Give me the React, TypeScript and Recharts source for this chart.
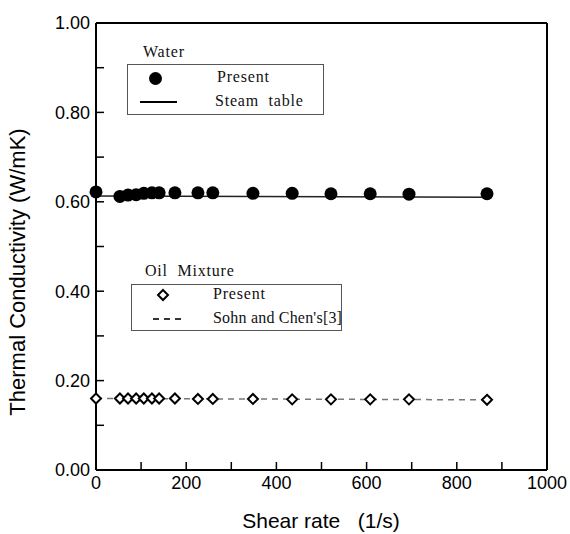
import {
  ComposedChart,
  Scatter,
  Line,
  XAxis,
  YAxis,
  ReferenceLine,
} from "recharts";

const shearRates = [0, 53, 71, 89, 106, 124, 140, 175, 226, 259, 348, 435, 521, 608, 694, 867];
const waterPresent = [0.622, 0.612, 0.615, 0.616, 0.619, 0.62, 0.62, 0.62, 0.62, 0.62, 0.619, 0.619, 0.618, 0.618, 0.617, 0.618];
const oilPresent = [0.16, 0.16, 0.16, 0.16, 0.16, 0.16, 0.16, 0.16, 0.159, 0.159, 0.159, 0.158, 0.158, 0.158, 0.158, 0.157];

const steamRates = [0, 870];
const steamTable = [0.613, 0.61];
const sohnRates = [0, 870];
const sohnChen = [0.16, 0.157];

const xTicks = [0, 100, 200, 300, 400, 500, 600, 700, 800, 900, 1000];
const yTicks = [0, 0.1, 0.2, 0.3, 0.4, 0.5, 0.6, 0.7, 0.8, 0.9, 1.0];

const waterData = shearRates.map((x, i) => ({ x, y: waterPresent[i] }));
const oilData = shearRates.map((x, i) => ({ x, y: oilPresent[i] }));
const steamData = steamRates.map((x, i) => ({ x, y: steamTable[i] }));
const sohnData = sohnRates.map((x, i) => ({ x, y: sohnChen[i] }));

const sans = "'Liberation Sans', Arial, sans-serif";
const serif = "'Liberation Serif', 'DejaVu Serif', serif";

function Dot(props: any) {
  const { cx, cy } = props;
  return <circle cx={cx} cy={cy} r={6.5} fill="#000" />;
}

function Diamond(props: any) {
  const { cx, cy } = props;
  const r = 5;
  return (
    <path
      d={`M${cx},${cy - r} L${cx + r},${cy} L${cx},${cy + r} L${cx - r},${cy} Z`}
      fill="#fff"
      stroke="#000"
      strokeWidth={2}
    />
  );
}

const legendText: React.CSSProperties = {
  position: "absolute",
  fontFamily: serif,
  fontSize: 16,
  letterSpacing: 0.8,
  whiteSpace: "pre",
  color: "#111",
  lineHeight: "18px",
};

export default function App() {
  return (
    <div style={{ position: "absolute", left: 0, top: 0, width: 570, height: 534, background: "#fff" }}>
      <ComposedChart
        width={570}
        height={534}
        margin={{ top: 23, right: 23, left: 0, bottom: 0 }}
      >
        <XAxis
          type="number"
          dataKey="x"
          domain={[0, 1000]}
          ticks={xTicks}
          height={64}
          tickSize={-8}
          tickMargin={14}
          tickFormatter={(v: number) => (v % 200 === 0 ? String(v) : "")}
          tick={{ fontSize: 18, fill: "#000", fontFamily: sans }}
          axisLine={{ stroke: "#000", strokeWidth: 2 }}
          tickLine={{ stroke: "#000", strokeWidth: 1.5 }}
        />
        <YAxis
          type="number"
          dataKey="y"
          domain={[0, 1]}
          ticks={yTicks}
          width={96}
          tickSize={-8}
          tickMargin={14}
          tickFormatter={(v: number) =>
            Math.round(v * 10) % 2 === 0 ? v.toFixed(2) : ""
          }
          tick={{ fontSize: 18, fill: "#000", fontFamily: sans }}
          axisLine={{ stroke: "#000", strokeWidth: 2 }}
          tickLine={{ stroke: "#000", strokeWidth: 1.5 }}
        />
        <ReferenceLine y={1} stroke="#000" strokeWidth={2} />
        <ReferenceLine x={1000} stroke="#000" strokeWidth={2} />
        <Line
          data={steamData}
          dataKey="y"
          type="linear"
          stroke="#222"
          strokeWidth={1.5}
          dot={false}
          isAnimationActive={false}
        />
        <Line
          data={sohnData}
          dataKey="y"
          type="linear"
          stroke="#777"
          strokeWidth={1.5}
          strokeDasharray="6 5"
          dot={false}
          isAnimationActive={false}
        />
        <Scatter data={waterData} dataKey="y" shape={<Dot />} isAnimationActive={false} />
        <Scatter data={oilData} dataKey="y" shape={<Diamond />} isAnimationActive={false} />
      </ComposedChart>

      {/* axis titles */}
      <div
        style={{
          position: "absolute",
          left: 0,
          top: 509,
          width: 642,
          textAlign: "center",
          fontFamily: sans,
          fontSize: 21,
          whiteSpace: "pre",
          lineHeight: "24px",
        }}
      >
        {"Shear rate   (1/s)"}
      </div>
      <div
        style={{
          position: "absolute",
          left: 18,
          top: 272,
          transform: "translate(-50%, -50%) rotate(-90deg)",
          fontFamily: sans,
          fontSize: 22,
          whiteSpace: "pre",
          lineHeight: "24px",
        }}
      >
        Thermal Conductivity (W/mK)
      </div>

      {/* water legend */}
      <div style={{ ...legendText, left: 143, top: 43 }}>Water</div>
      <div
        style={{
          position: "absolute",
          left: 127,
          top: 64,
          width: 195,
          height: 49,
          border: "1px solid #555",
        }}
      />
      <div
        style={{
          position: "absolute",
          left: 149,
          top: 72,
          width: 13,
          height: 13,
          borderRadius: "50%",
          background: "#000",
        }}
      />
      <div style={{ ...legendText, left: 217, top: 68 }}>Present</div>
      <div
        style={{
          position: "absolute",
          left: 140,
          top: 101,
          width: 37,
          height: 2,
          background: "#000",
        }}
      />
      <div style={{ ...legendText, left: 215, top: 92 }}>Steam  table</div>

      {/* oil legend */}
      <div style={{ ...legendText, left: 145, top: 262 }}>Oil  Mixture</div>
      <div
        style={{
          position: "absolute",
          left: 131,
          top: 284,
          width: 209,
          height: 45,
          border: "1px solid #555",
        }}
      />
      <svg style={{ position: "absolute", left: 155, top: 287 }} width={16} height={16}>
        <path d="M8,3 L13,8 L8,13 L3,8 Z" fill="#fff" stroke="#000" strokeWidth={2} />
      </svg>
      <div style={{ ...legendText, left: 213, top: 285 }}>Present</div>
      <div
        style={{
          position: "absolute",
          left: 153,
          top: 318,
          width: 28,
          height: 0,
          borderTop: "2px dashed #333",
        }}
      />
      <div style={{ ...legendText, left: 213, top: 309, letterSpacing: 0.2 }}>Sohn and Chen's[3]</div>
    </div>
  );
}
